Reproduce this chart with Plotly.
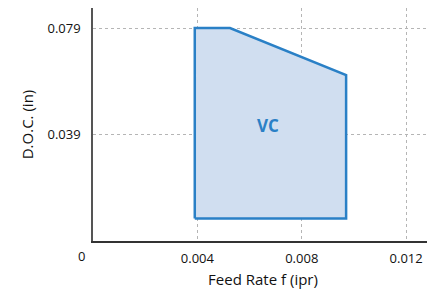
import plotly.graph_objects as go

# Feed rate (ipr) and depth of cut (in) outlining the VC region
feed = [0.0039, 0.0039, 0.00525, 0.0097, 0.0097, 0.0039]
doc = [0.0083, 0.0787, 0.0787, 0.0613, 0.0083, 0.0083]

x_ticks = [0.004, 0.008, 0.012]
x_tick_labels = ["0.004", "0.008", "0.012"]
y_ticks = [0.0394, 0.0787]
y_tick_labels = ["0.039", "0.079"]

region_label = "VC"
region_label_pos = (0.00672, 0.0428)

fig = go.Figure()
fig.add_trace(go.Scatter(
    x=feed, y=doc, mode="lines", fill="toself",
    fillcolor="rgba(208,222,240,1)",
    line=dict(color="#2a80c6", width=2.5),
    hoverinfo="skip", showlegend=False,
))

fig.add_annotation(x=region_label_pos[0], y=region_label_pos[1], text="<b>" + region_label + "</b>",
                   showarrow=False, font=dict(family="Open Sans", size=17, color="#2a80c6"))
fig.add_annotation(x=0, y=0, xref="x", yref="y", text="0", showarrow=False,
                   xshift=-12, yshift=-15, font=dict(family="Open Sans", size=13, color="#111"))

fig.update_layout(
    width=427, height=288,
    margin=dict(l=85, r=2, t=0, b=55),
    paper_bgcolor="white", plot_bgcolor="white",
    font=dict(family="Open Sans", size=13, color="#111"),
    xaxis=dict(range=[0, 0.01303], tickvals=x_ticks, ticktext=x_tick_labels,
               showgrid=True, gridcolor="#b5b5b5", griddash="dot", gridwidth=1,
               showline=True, linecolor="#333", linewidth=1.5, zeroline=False,
               ticks="", ticklabelstandoff=5, automargin=False,
               title=dict(text="Feed Rate f (ipr)", font=dict(size=15), standoff=8)),
    yaxis=dict(range=[0, 0.0861], tickvals=y_ticks, ticktext=y_tick_labels,
               showgrid=True, gridcolor="#b5b5b5", griddash="dot", gridwidth=1,
               showline=True, linecolor="#555", linewidth=1.5, zeroline=False,
               ticks="", ticklabelstandoff=8, automargin=False,
               title=dict(text="D.O.C. (in)", font=dict(size=15), standoff=10)),
)

fig.write_html("out.html")
